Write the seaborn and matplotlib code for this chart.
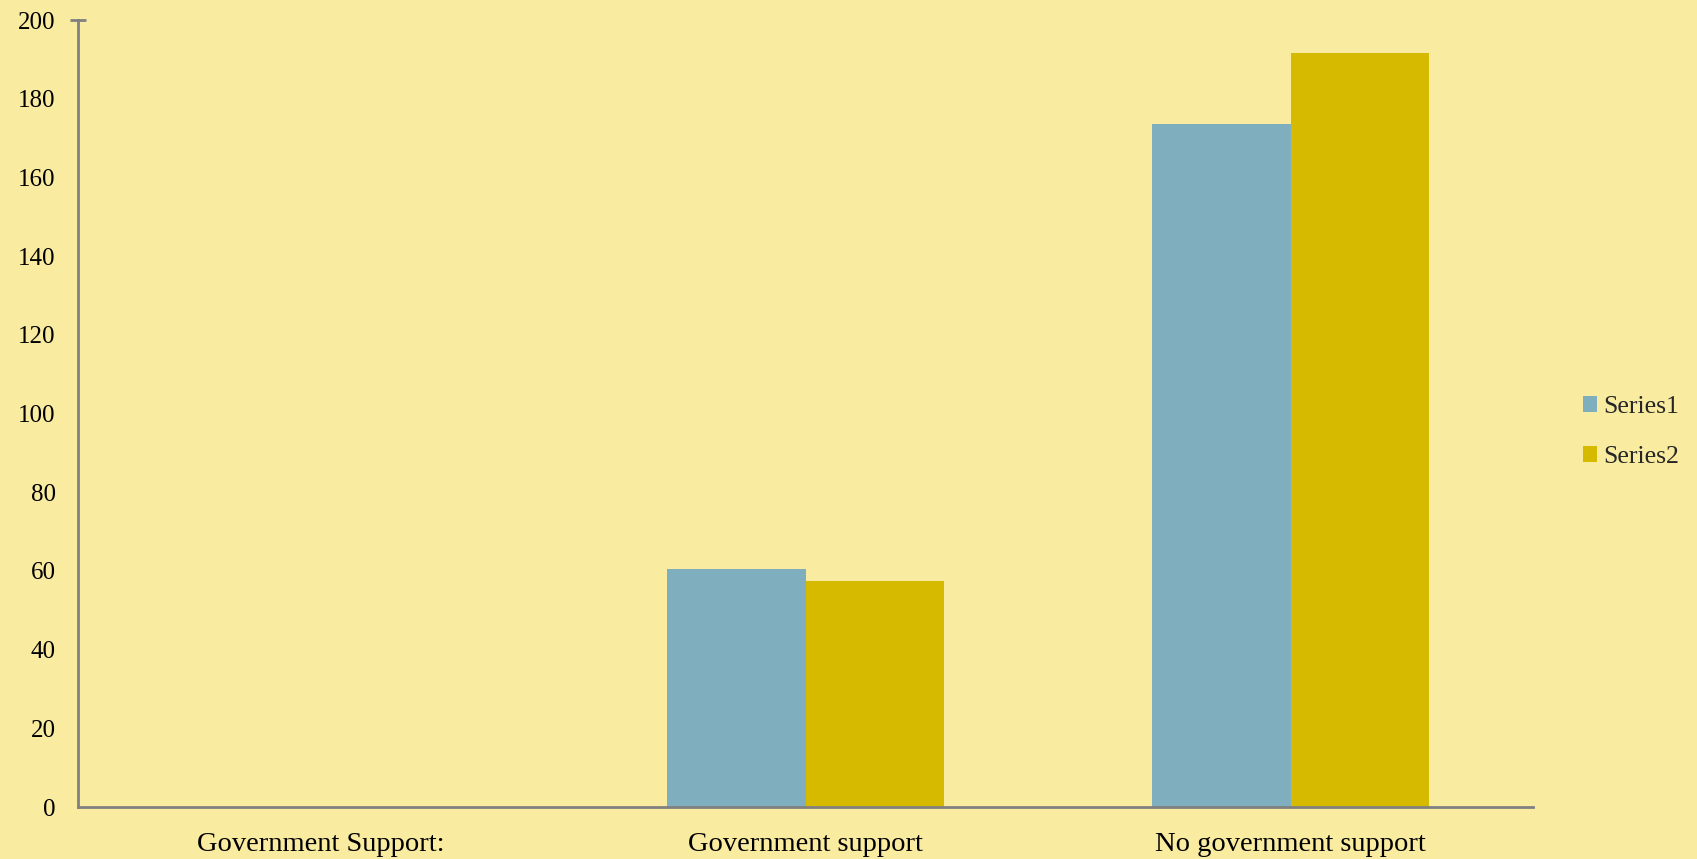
import numpy as np
import pandas as pd
import seaborn as sns
import matplotlib.pyplot as plt
import matplotlib.ticker as mticker

categories = ["Government Support:", "Government support", "No government support"]
series1 = [0, 60.5, 173.5]
series2 = [0, 57.5, 191.5]
series_names = ["Series1", "Series2"]
y_ticks = list(range(0, 201, 20))

bg = "#F9EBA0"
colors = ["#7FAFBF", "#D6BA00"]
axis_color = "#808080"

df = pd.DataFrame({
    "category": categories * 2,
    "value": series1 + series2,
    "series": [series_names[0]] * 3 + [series_names[1]] * 3,
})

sns.set_theme(style="white")
plt.rcParams["font.family"] = ["Liberation Serif", "DejaVu Serif"]

fig = plt.figure(figsize=(16.97, 8.59), dpi=100, facecolor=bg)
ax = fig.add_axes([0.046, 0.0605, 0.8574, 0.9162])
ax.set_facecolor(bg)

sns.barplot(data=df, x="category", y="value", hue="series", order=categories,
            hue_order=series_names, palette=colors, width=0.57, gap=0,
            saturation=1, edgecolor="none", linewidth=0, ax=ax)

ax.set_ylim(0, 200)
ax.set_xlim(-0.5, 2.5)
ax.set_yticks(y_ticks)
ax.yaxis.remove_overlapping_locs = False
ax.yaxis.set_minor_locator(mticker.FixedLocator([200]))
ax.tick_params(axis="y", which="major", length=0, labelsize=18, pad=16,
               labelcolor="black")
ax.tick_params(axis="y", which="minor", left=True, length=12, width=2,
               direction="inout", color=axis_color)
ax.tick_params(axis="x", length=0, labelsize=20.5, pad=18, labelcolor="black")
ax.set_xlabel("")
ax.set_ylabel("")

for side in ["top", "right"]:
    ax.spines[side].set_visible(False)
for side in ["left", "bottom"]:
    ax.spines[side].set_color(axis_color)
    ax.spines[side].set_linewidth(2)

leg = ax.legend(loc="center left", bbox_to_anchor=(0.919, 0.497),
                bbox_transform=fig.transFigure, frameon=False, fontsize=18.5,
                handlelength=0.55, handleheight=0.55, handletextpad=0.25,
                labelspacing=1.1)

fig.savefig("out.png", dpi=100, facecolor=bg)
